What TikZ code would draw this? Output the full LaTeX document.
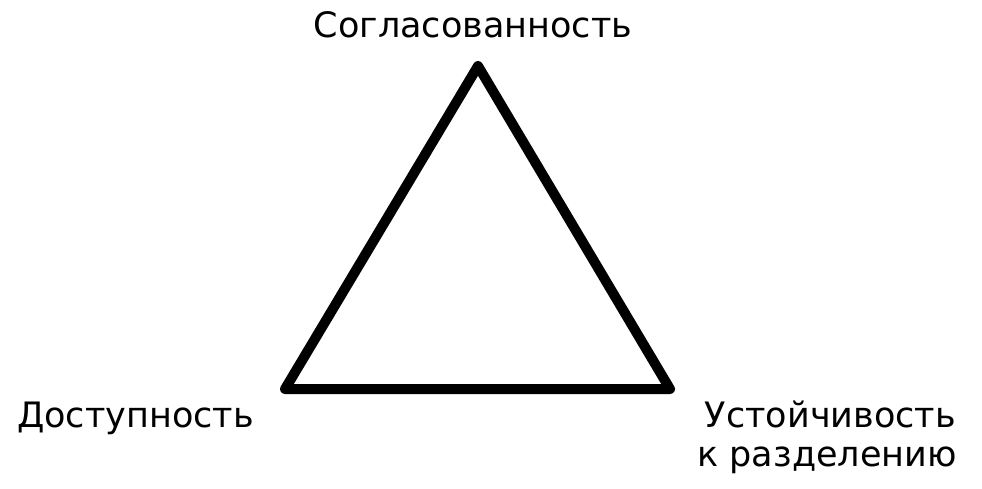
\documentclass[tikz,border=0pt]{standalone}
\usepackage{fontspec}
\setmainfont{DejaVu Sans}
\begin{document}
\begin{tikzpicture}[x=1pt,y=-1pt,
  lbl/.style={inner sep=0pt,font=\fontsize{35}{40}\selectfont},
  edge/.style={line width=10pt,line join=round,draw=black}]
\useasboundingbox[fill=white] (0,0) rectangle (982,488);
\coordinate (A) at (478,66);
\coordinate (B) at (285,389);
\coordinate (C) at (670,389);
\draw[edge] (A) -- (B) -- (C) -- cycle;
\node[lbl,anchor=base] (top) at (473,37) {Согласованность};
\node[lbl,anchor=base west] (left) at (17,427) {Доступность};
\node[lbl,anchor=base east] (right1) at (956,427) {Устойчивость};
\node[lbl,anchor=base east] (right2) at (957,466) {к разделению};
\end{tikzpicture}
\end{document}
